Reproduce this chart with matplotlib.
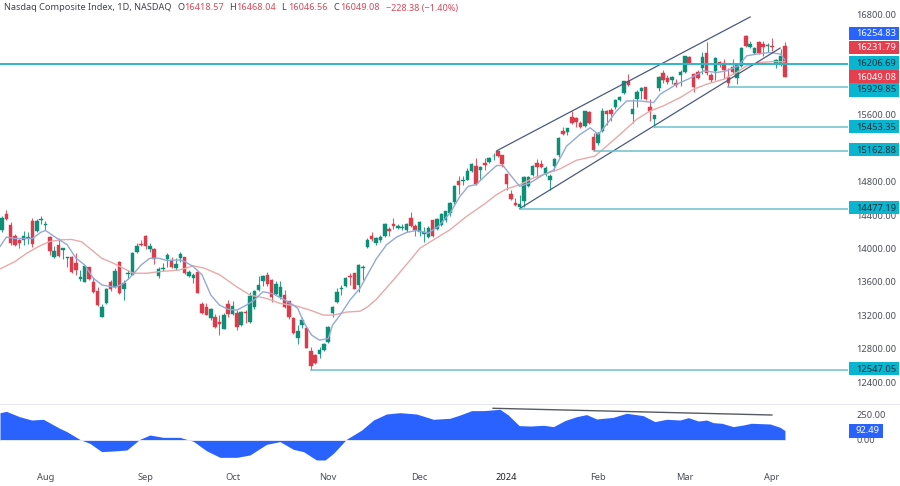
import matplotlib
matplotlib.use("Agg")
import matplotlib.pyplot as plt
from matplotlib.patches import Rectangle
from matplotlib.lines import Line2D
import numpy as np

plt.rcParams['font.family'] = ['Noto Sans', 'DejaVu Sans']

opens = [14216,14416,14280,14152,14100,14096,14120,14324,14204,14344,14284,14136,13896,14036,13988,13888,13904,13824,13632,13604,
 13776,13600,13488,13184,13344,13596,13536,13840,13512,13696,13688,13960,14048,14144,14000,14000,13672,13760,13880,13864,
 13768,13884,13896,13676,13648,13720,13336,13296,13168,13184,13120,13040,13336,13216,13232,13084,13240,13124,13296,13504,
 13616,13680,13624,13456,13416,13448,13368,13168,12928,13084,13044,12772,12724,12744,12792,12880,13224,13360,13520,13552,
 13672,13704,13564,13764,
 14016,14152,14064,14096,14144,14232,14296,14244,14240,14216,14368,14272,14192,14172,14136,14336,14232,14280,14336,14424,
 14552,14812,14808,14824,14928,14984,14936,15028,15032,15100,15160,15112,14888,14656,14544,14496,14564,14744,14880,15024,
 15016,14888,14824,14992,15112,15408,15396,15576,15564,15496,15464,15628,15336,15256,15408,15640,15656,15688,15776,15856,
 16000,15608,15784,15880,15928,15696,15544,15920,16104,16036,16020,15984,16076,16116,16284,16092,16108,16156,16336,16076,
 16124,16228,16220,16052,16172,16036,16184,16544,16408,16340,16464,16448,16416,16420,16212,16196,16418.57]
closes = [14364,14356,14064,14044,14064,14152,14136,14056,14332,14356,14296,13976,13968,13916,14004,13896,13720,13744,13656,13792,
 13632,13480,13320,13304,13512,13512,13736,13472,13592,13704,13952,14032,14040,14032,14024,13880,13760,13768,13928,13776,
 13816,13936,13704,13716,13684,13472,13224,13208,13280,13064,13096,13208,13216,13312,13064,13244,13232,13432,13496,13568,
 13672,13576,13416,13576,13536,13304,13184,12984,13016,13144,12816,12596,12632,12792,12856,13064,13304,13480,13528,13644,
 13656,13520,13804,13784,
 14096,14112,14124,14136,14296,14204,14264,14264,14256,14296,14264,14216,14316,14196,14240,14152,14352,14412,14444,14544,
 14752,14764,14824,14928,15012,14776,14976,15000,15084,15108,15104,15008,14776,14592,14516,14528,14856,14856,14984,14976,
 14976,14960,14864,15072,15324,15372,15436,15496,15516,15456,15640,15504,15176,15376,15644,15604,15608,15772,15812,16000,
 15956,15664,15872,15920,15784,15640,15592,16056,16012,15992,16052,15952,16108,16296,16220,15936,16036,16292,16096,16020,
 16276,16188,16136,15984,16108,16192,16392,16420,16448,16400,16332,16412,16428,16412,16252,16304,16049.08]
highs = [14384,14464,14320,14176,14112,14208,14192,14364,14352,14384,14324,14144,14024,14124,14004,13904,13912,13952,13744,13800,
 13784,13656,13544,13336,13524,13624,13768,13848,13624,13744,13960,14064,14104,14164,14064,14008,13776,13824,13952,13904,
 13884,13964,13904,13744,13712,13728,13364,13344,13288,13216,13204,13224,13384,13376,13264,13256,13264,13484,13504,13672,
 13684,13724,13632,13608,13608,13504,13376,13176,13084,13184,13056,12824,12744,12824,12872,13072,13312,13528,13564,13656,
 13704,13712,13812,13804,
 14124,14200,14136,14160,14304,14256,14368,14288,14296,14304,14432,14296,14324,14256,14264,14344,14364,14424,14452,14552,
 14760,14864,14864,14964,15024,15084,14984,15084,15096,15136,15168,15120,14896,14704,14608,14640,14864,14872,15004,15072,
 15064,14984,14896,15084,15332,15456,15444,15644,15576,15524,15648,15644,15384,15392,15684,15656,15684,15784,15824,16008,
 16088,15784,15896,15928,15936,15792,15600,16064,16132,16076,16064,16024,16132,16304,16304,16104,16132,16344,16464,16104,
 16284,16244,16264,16164,16264,16204,16404,16556,16484,16412,16476,16484,16452,16512,16264,16384,16468.04]
lows = [14192,14336,14044,14024,14004,14044,14056,14016,14192,14296,14216,13924,13888,13904,13876,13784,13712,13684,13616,13596,
 13624,13472,13312,13176,13336,13496,13524,13456,13384,13632,13680,13944,14024,13992,13960,13816,13648,13736,13784,13764,
 13744,13844,13696,13664,13584,13464,13216,13200,13144,13048,12964,13032,13184,13208,13024,13072,13104,13112,13272,13496,
 13552,13552,13364,13448,13400,13284,13160,12976,12856,13044,12808,12547.05,12616,12696,12776,12872,13184,13352,13440,13544,
 13564,13512,13484,13624,
 14008,14084,14044,14080,14136,14152,14232,14232,14224,14200,14256,14144,14152,14072,14120,14136,14224,14264,14320,14392,
 14536,14656,14764,14816,14920,14764,14832,14936,15024,15056,15096,14976,14696,14576,14504,14477.19,14496,14736,14872,14856,
 14960,14872,14704,14928,15096,15360,15360,15488,15456,15444,15448,15488,15162.88,15240,15392,15480,15524,15672,15764,15844,
 15944,15504,15696,15784,15776,15524,15453.35,15888,15984,15972,15964,15932,15944,16104,16212,15876,16028,16084,16076,15996,
 16012,16172,16024,15929.85,16092,15972,16172,16412,16396,16324,16324,16304,16344,16364,16164,16184,16046.56]

fast_idx = [-0.46,1,3,7,9,10,12,15,17,19,21,23,26,28,30,32,34,36,38,40.9,42,44,46,48,50,52,54,56.2,58,60,62.4,65,67,68,69.3,71.2,73,75,76,78,80,82.3,
 86,88.4,90.7,93,95.3,98,100.3,103,105.3,107.2,109,111.4,113.7,115.2,116.8,119,121.4,124.5,126.8,129.8,132.9,135.2,137.1,139,141.3,143.6,146.7,149.8,151.3,155.1,158.2,161.3,164.3,166.6,169.3,171.2,173.5,176.6,179,180]
fast_ma = [14024,14136,14120,14120,14196,14216,14144,14044,13884,13804,13644,13564,13536,13584,13684,13804,13884,13884,13856,13864,13844,13784,13684,13444,13324,13272,13264,13324,13384,13484,13456,13384,13324,13284,13124,12964,12904,12924,13084,13224,13384,13524,
 13872,14044,14136,14192,14216,14184,14264,14424,14624,14744,14764,14884,14992,14992,14884,14744,14784,14884,14936,15224,15364,15444,15364,15484,15644,15764,15764,15744,15844,15964,16036,16124,16104,16124,16184,16304,16324,16344,16324,16254.83]
slow_idx = [-0.46,3,5.7,8.7,11,13.7,16,18.3,20.6,22.9,25.6,27.9,30.2,33.3,36.3,40.9,44,46.6,50.1,53.9,57,60.8,63.9,67.7,70.8,73.9,76.2,79.2,82.3,84,86,90,94.2,96.1,99.2,103,106.8,110.7,113.7,116,119.1,122.2,125.2,128.3,132.1,136.3,139,142.1,145.9,149,152,155.9,159,162,165.9,168.9,171.2,174.3,177.3,180]
slow_ma = [13756,13844,13944,14032,14084,14104,14108,14080,13984,13884,13824,13764,13704,13704,13724,13744,13792,13764,13684,13544,13444,13404,13344,13312,13264,13204,13204,13240,13250,13300,13390,13624,13884,14004,14104,14224,14384,14524,14644,14712,14764,14844,14896,14952,15056,15104,15224,15364,15544,15644,15704,15804,15904,15964,16024,16104,16184,16224,16236,16231.79]

osc_idx = [-0.46,1,4,6.8,9.5,13.3,14.9,18,20.2,22.9,25.6,28.7,31.7,34,37.1,40.9,44,47,50.1,54,57,60.8,63.9,67,69.3,72.3,74.3,76.2,79.2,82.7,85.4,88.4,91.5,95.3,99.2,103,
 105.3,108,110.7,114.5,116.4,118.9,121.4,124.5,126.8,129.4,132.1,134.4,136.7,140.5,143.6,147.4,150.1,152.8,155.9,157.8,160.1,162,163.5,165.5,168.1,170.4,172.3,176.6,178.9,180]
osc_vals = [268,281,229,196,203,114,82,3,-33,-114,-108,-98,7,49,26,26,-13,-105,-170,-170,-147,-43,-16,-92,-114,-196,-196,-131,7,98,196,255,268,255,203,213,
 245,288,288,301,245,141,137,144,131,190,229,249,206,222,262,239,180,203,196,219,186,196,170,164,131,147,164,157,124,92.49]
osc_line_idx = [112.9,177]
osc_line_vals = [311,245]

channel_upper_idx = [113.8,172]
channel_upper_val = [15170,16768]
channel_lower_idx = [119,178.9]
channel_lower_val = [14477,16396]

level_vals = [15929.85,15453.35,15162.88,14477.19,12547.05]
level_start = [167,150,136,119,71]
main_level = 16206.69

price_ticks = [16800,15600,14800,14400,14000,13600,13200,12800,12400]
osc_ticks = [250,0]
month_labels = ['Aug','Sep','Oct','Nov','Dec','2024','Feb','Mar','Apr']
month_idx = [10,33,53,75,96,116,137,157,177]

price_tags = ['16254.83','16231.79','16206.69','16049.08','15929.85','15453.35','15162.88','14477.19','12547.05']
tag_y_px = [34,48,63,77,90,127,150,208,369]
BLUE, RED, CYAN = '#2962ff', '#e53e4e', '#0ab5cf'
tag_colors = [BLUE,RED,CYAN,RED,CYAN,CYAN,CYAN,CYAN,CYAN]
tag_text = ['white','white','#10313a','white','#10313a','#10313a','#10313a','#10313a','#10313a']

W, H = 900, 486
fig = plt.figure(figsize=(W/100, H/100), dpi=100, facecolor='white')
PANE = 848
ax = fig.add_axes([0, (H-404)/H, PANE/W, 404/H])
sub = fig.add_axes([0, (H-466)/H, PANE/W, 62/H])

x = np.arange(len(opens))
o, c, h, l = map(np.array, (opens, closes, highs, lows))
up = c >= o
GREEN, CRED = '#0b8f77', '#dc3b4b'
cols = np.where(up, GREEN, CRED)
ax.vlines(x, l, h, colors=cols, lw=0.8, alpha=0.85, zorder=3)
ax.bar(x, np.abs(c-o), bottom=np.minimum(o, c), width=0.8, color=cols, edgecolor=cols, lw=0.3, zorder=4)
ax.plot(slow_idx, slow_ma, color='#e8a9a9', lw=1.0, zorder=5)
ax.plot(fast_idx, fast_ma, color='#93a9d8', lw=1.0, zorder=5)
ax.plot(channel_upper_idx, channel_upper_val, color='#4a5a80', lw=0.9, zorder=6)
ax.plot(channel_lower_idx, channel_lower_val, color='#4a5a80', lw=0.9, zorder=6)
LV = '#6cc0cb'
for v, s in zip(level_vals, level_start):
    ax.plot([s, 195], [v, v], color=LV, lw=1.1, zorder=6)
ax.axhline(main_level, color='#2fb6c6', lw=1.4, zorder=6)

xlim = (-0.46, 194.5)
ax.set_xlim(*xlim)
ax.set_ylim(12141, 16971)
ax.yaxis.tick_right()
ax.set_yticks(price_ticks)
ax.set_yticklabels([f'{t:.2f}' for t in price_ticks], fontsize=6.7, color='#4a4e58')
ax.tick_params(axis='y', length=0, pad=6)
ax.set_xticks([])
for s in ax.spines.values():
    s.set_visible(False)

sub.fill_between(osc_idx, osc_vals, 0, color=BLUE, lw=0, zorder=3)
sub.plot(osc_line_idx, osc_line_vals, color='#555a60', lw=1.0, zorder=4)
sub.hlines(0, osc_idx[0], osc_idx[-1], color='#e4e9f8', lw=0.7, zorder=4)
sub.set_xlim(*xlim)
sub.set_ylim(-255, 353)
sub.yaxis.tick_right()
sub.set_yticks(osc_ticks)
sub.set_yticklabels([f'{t:.2f}' for t in osc_ticks], fontsize=6.7, color='#4a4e58')
sub.tick_params(axis='y', length=0, pad=6)
sub.set_xticks(month_idx)
sub.set_xticklabels(month_labels, fontsize=6.7, color='#4a4e58')
sub.tick_params(axis='x', length=0, pad=5)
sub.get_xticklabels()[5].set_fontweight('bold')
sub.get_xticklabels()[5].set_color('#20232a')
for s in sub.spines.values():
    s.set_visible(False)

def fx(px): return px/W
def fy(py): return 1-py/H

fig.add_artist(Line2D([0,1],[fy(404),fy(404)],color='#e6e8ec',lw=0.8))

for t, y, col, tc in zip(price_tags, tag_y_px, tag_colors, tag_text):
    fig.add_artist(Rectangle((fx(849), fy(y+6.5)), 50/W, 13/H, transform=fig.transFigure, color=col, lw=0, zorder=5))
    fig.text(fx(856), fy(y), t, fontsize=6.7, color=tc, va='center', ha='left', zorder=6)

fig.add_artist(Rectangle((fx(849), fy(437.5)), 34/W, 13.5/H, transform=fig.transFigure, color=BLUE, lw=0, zorder=5))
fig.text(fx(855), fy(430.6), '92.49', fontsize=6.7, color='white', va='center', ha='left', zorder=6)

HD = '#3f434c'; HR = '#d8485a'
fig.text(fx(4), fy(8), 'Nasdaq Composite Index, 1D, NASDAQ', fontsize=6.6, color=HD, va='center')
for px, k, v in [(177,'O','16418.57'),(229,'H','16468.04'),(281,'L','16046.56'),(333,'C','16049.08')]:
    fig.text(fx(px), fy(8), k, fontsize=6.6, color=HD, va='center')
    fig.text(fx(px+7), fy(8), v, fontsize=6.6, color=HR, va='center')
fig.text(fx(386), fy(8), '\u2212228.38 (\u22121.40%)', fontsize=6.5, color=HR, va='center')

fig.savefig('out.png', dpi=100, facecolor='white')
